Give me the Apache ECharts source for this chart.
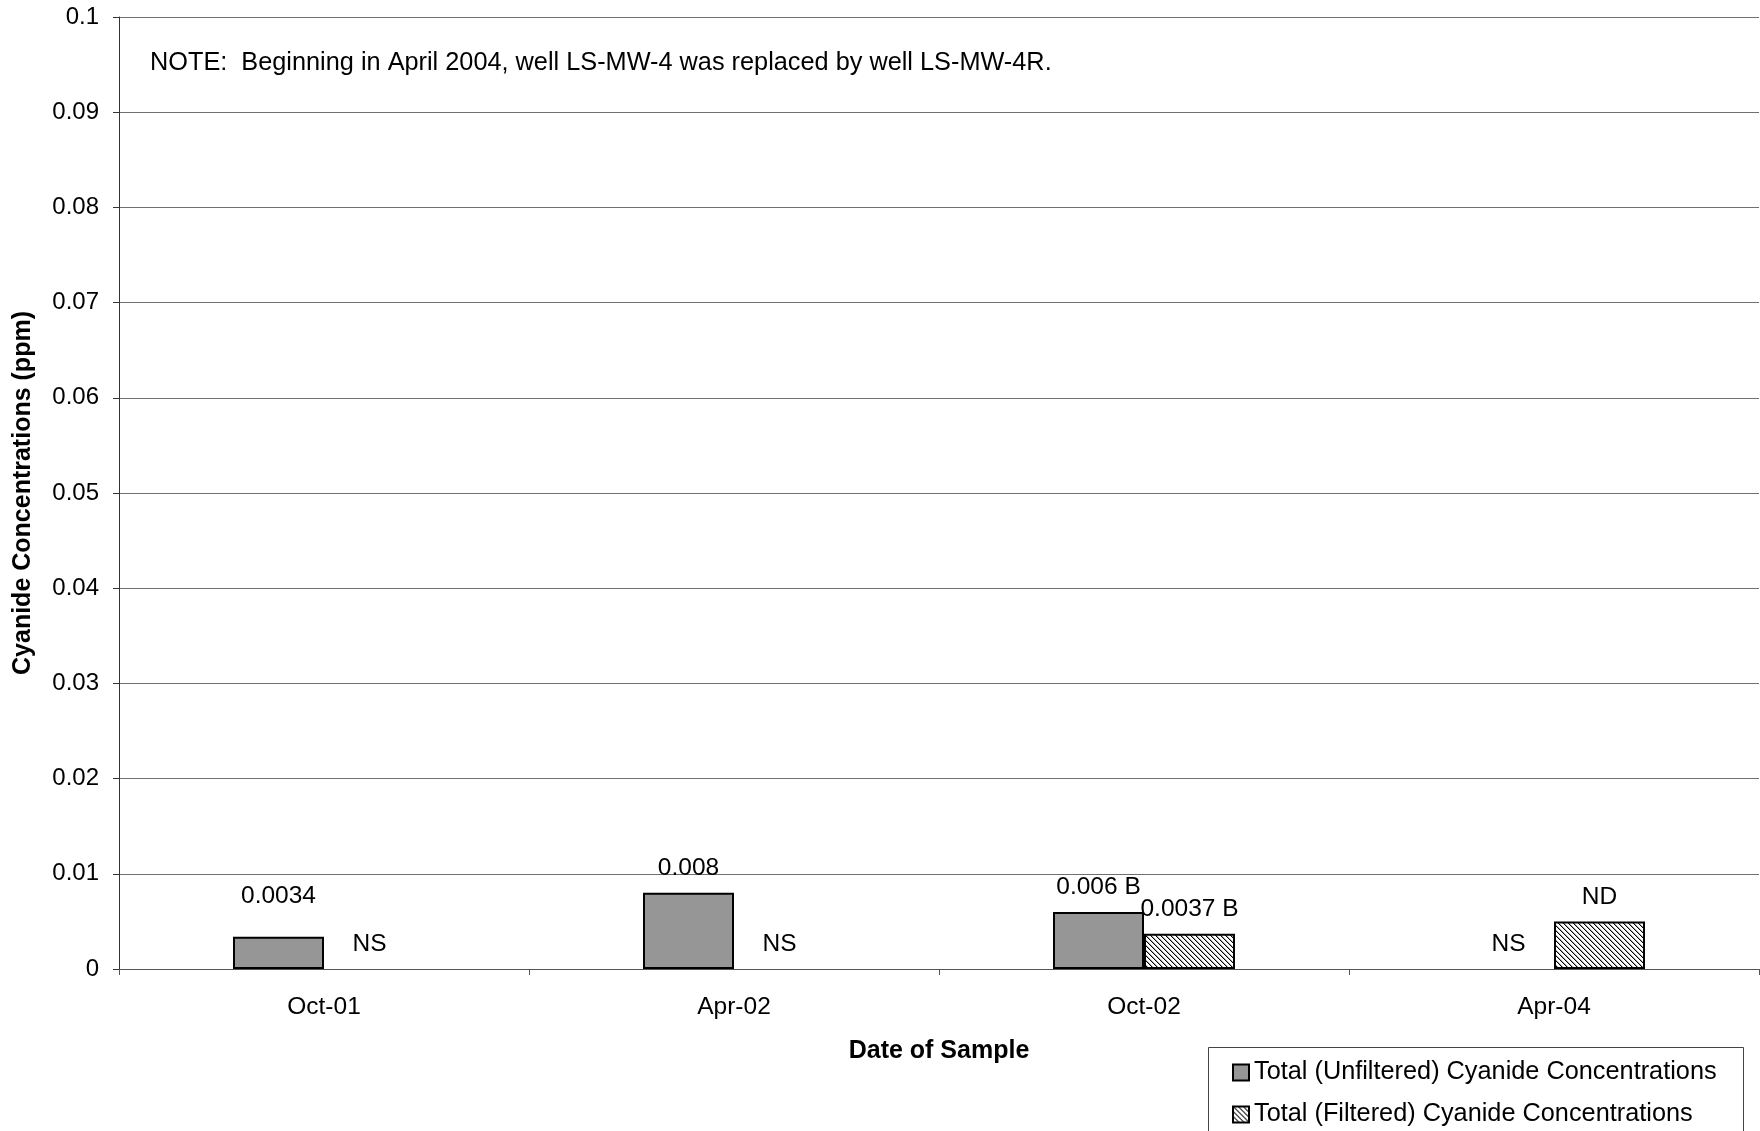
<!DOCTYPE html>
<html>
<head>
<meta charset="utf-8">
<script src="https://cdn.jsdelivr.net/npm/echarts@6/dist/echarts.min.js"></script>
<style>
  html, body { margin: 0; padding: 0; background: #fff; }
  #chart { width: 1760px; height: 1131px; }
</style>
</head>
<body>
<div id="chart"></div>
<script>
// Sampling dates
const categories = ['Oct-01', 'Apr-02', 'Oct-02', 'Apr-04'];
// Total (unfiltered) cyanide, ppm (0 where not sampled)
const unfilteredValues = [0.0034, 0.008, 0.006, 0];
const unfilteredLabels = ['0.0034', '0.008', '0.006 B', 'NS'];
// Total (filtered) cyanide, ppm (Apr-04 non-detect drawn at 0.005)
const filteredValues = [0, 0, 0.0037, 0.005];
const filteredLabels = ['NS', 'NS', '0.0037 B', 'ND'];
// Value axis ticks
const yTicks = [0, 0.01, 0.02, 0.03, 0.04, 0.05, 0.06, 0.07, 0.08, 0.09, 0.1];

const FONT = '"Liberation Sans", Arial, sans-serif';

// Diagonal hatch fill for the filtered series
function hatchPattern() {
  const c = document.createElement('canvas');
  c.width = 5; c.height = 5;
  const g = c.getContext('2d');
  g.fillStyle = '#ffffff';
  g.fillRect(0, 0, 5, 5);
  for (let i = 0; i < 5; i++) {
    g.fillStyle = '#000000';
    g.fillRect(i, i, 1, 1);
    g.fillStyle = '#a8a8a8';
    g.fillRect((i + 1) % 5, i, 1, 1);
  }
  return { image: c, repeat: 'repeat' };
}

function buildData(values, labels, extraDist) {
  return values.map((v, i) => {
    const item = { value: v, labelText: labels[i] };
    if (v === 0) {
      item.itemStyle = { borderColor: 'transparent', borderWidth: 0 };
    }
    if (extraDist && extraDist[i]) {
      item.label = { distance: extraDist[i] };
    }
    return item;
  });
}

const labelStyle = {
  show: true,
  position: 'top',
  distance: 12,
  fontFamily: FONT,
  fontSize: 24.5,
  lineHeight: 25,
  color: '#000',
  formatter: p => p.data.labelText
};

const chart = echarts.init(document.getElementById('chart'), null, { renderer: 'canvas' });

chart.setOption({
  animation: false,
  backgroundColor: '#ffffff',
  grid: { left: 119, right: 1, top: 17, bottom: 162, containLabel: false },
  xAxis: {
    type: 'category',
    data: categories,
    axisLine: { lineStyle: { color: '#555', width: 1 } },
    axisTick: { show: true, length: 6, lineStyle: { color: '#555' } },
    axisLabel: { fontFamily: FONT, fontSize: 24.5, color: '#000', margin: 26 }
  },
  yAxis: {
    type: 'value',
    min: 0,
    max: 0.1,
    interval: 0.01,
    axisLine: { show: true, lineStyle: { color: '#333', width: 1 } },
    axisTick: { show: true, length: 6, lineStyle: { color: '#333' } },
    axisLabel: {
      fontFamily: FONT, fontSize: 24, color: '#000', margin: 20,
      formatter: v => {
        const t = yTicks.find(x => Math.abs(x - v) < 1e-9);
        return String(t !== undefined ? t : v);
      }
    },
    splitLine: { show: true, lineStyle: { color: '#707070', width: 1 } }
  },
  legend: {
    orient: 'vertical',
    left: 1232,
    top: 1060,
    icon: 'rect',
    itemWidth: 16,
    itemHeight: 16,
    itemGap: 17,
    padding: 0,
    textStyle: { fontFamily: FONT, fontSize: 25.3, lineHeight: 25, color: '#000' },
    selectedMode: false
  },
  series: [
    {
      name: 'Total (Unfiltered) Cyanide Concentrations',
      type: 'bar',
      barWidth: 91,
      barGap: '0%',
      itemStyle: { color: '#969696', borderColor: '#000', borderWidth: 2 },
      label: labelStyle,
      data: buildData(unfilteredValues, unfilteredLabels, [28, 0, 0, 0])
    },
    {
      name: 'Total (Filtered) Cyanide Concentrations',
      type: 'bar',
      barWidth: 91,
      barGap: '0%',
      itemStyle: { color: hatchPattern(), borderColor: '#000', borderWidth: 2 },
      label: labelStyle,
      data: buildData(filteredValues, filteredLabels, null)
    }
  ],
  graphic: [
    {
      // legend frame, running past the bottom edge
      type: 'rect',
      z: -1,
      shape: { x: 1208.5, y: 1047.5, width: 535, height: 110 },
      style: { fill: '#fff', stroke: '#444', lineWidth: 1 }
    },
    {
      type: 'text',
      x: 150,
      y: 63,
      style: {
        text: 'NOTE:  Beginning in April 2004, well LS-MW-4 was replaced by well LS-MW-4R.',
        font: '25.3px ' + FONT,
        fill: '#000',
        verticalAlign: 'middle'
      }
    },
    {
      type: 'text',
      x: 23,
      y: 493,
      rotation: Math.PI / 2,
      style: {
        text: 'Cyanide Concentrations (ppm)',
        font: 'bold 25px ' + FONT,
        fill: '#000',
        align: 'center',
        verticalAlign: 'middle'
      }
    },
    {
      type: 'text',
      x: 939,
      y: 1051,
      style: {
        text: 'Date of Sample',
        font: 'bold 25px ' + FONT,
        fill: '#000',
        align: 'center',
        verticalAlign: 'middle'
      }
    }
  ]
});
</script>
</body>
</html>
